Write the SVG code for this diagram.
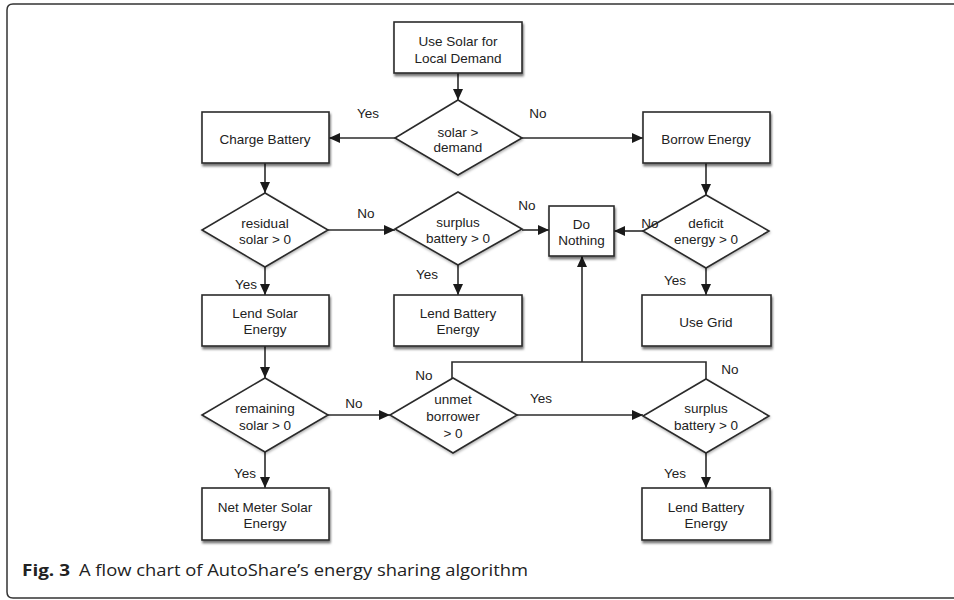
<svg xmlns="http://www.w3.org/2000/svg" width="954" height="600" viewBox="0 0 954 600">
<defs>
<style>
.box{fill:#fff;stroke:#2b2b2b;stroke-width:1.6;filter:url(#sh)}
.dia{fill:#fff;stroke:#2b2b2b;stroke-width:1.6;filter:url(#sh2)}
.t{font-family:"Liberation Sans",Arial,Helvetica,sans-serif;font-size:13.5px;fill:#222;text-anchor:middle}
.lb{font-family:"Liberation Sans",Arial,Helvetica,sans-serif;font-size:13.5px;fill:#222;text-anchor:middle}
.c{fill:none;stroke:#2b2b2b;stroke-width:1.6}
.cap{font-family:"Open Sans","Liberation Sans",sans-serif;font-size:16px;fill:#222}
</style>
<filter id="sh" x="-10%" y="-10%" width="130%" height="140%">
<feDropShadow dx="1" dy="2.5" stdDeviation="1.3" flood-color="#000" flood-opacity="0.55"/>
</filter>
<filter id="sh2" x="-10%" y="-10%" width="130%" height="140%">
<feDropShadow dx="0.5" dy="1.5" stdDeviation="1" flood-color="#000" flood-opacity="0.3"/>
</filter>
<marker id="ah" markerUnits="userSpaceOnUse" markerWidth="12" markerHeight="10" refX="11" refY="5" orient="auto">
<path d="M0,0 L11,5 L0,10 Z" fill="#1a1a1a"/>
</marker>
</defs>
<rect x="0" y="0" width="954" height="600" fill="#fff"/>
<path d="M960,4 H13 Q7,4 7,10 V592 Q7,598 13,598 H960" fill="none" stroke="#333" stroke-width="1.5"/>

<g id="connectors">
<path class="c" d="M458,73 V100" marker-end="url(#ah)"/>
<path class="c" d="M395,138 H329" marker-end="url(#ah)"/>
<path class="c" d="M522,138 H643" marker-end="url(#ah)"/>
<path class="c" d="M265,163 V193" marker-end="url(#ah)"/>
<path class="c" d="M706,163 V195" marker-end="url(#ah)"/>
<path class="c" d="M328,230 H395" marker-end="url(#ah)"/>
<path class="c" d="M522,230 H549" marker-end="url(#ah)"/>
<path class="c" d="M643,231 H614" marker-end="url(#ah)"/>
<path class="c" d="M265,267 V295" marker-end="url(#ah)"/>
<path class="c" d="M458,265 V295" marker-end="url(#ah)"/>
<path class="c" d="M706,268 V295" marker-end="url(#ah)"/>
<path class="c" d="M265,346 V378" marker-end="url(#ah)"/>
<path class="c" d="M328,415 H390" marker-end="url(#ah)"/>
<path class="c" d="M517,415 H643" marker-end="url(#ah)"/>
<path class="c" d="M265,452 V488" marker-end="url(#ah)"/>
<path class="c" d="M706,453 V488" marker-end="url(#ah)"/>
<path class="c" d="M452,378 V362 H706 V379"/>
<path class="c" d="M582,362 V256" marker-end="url(#ah)"/>
</g>

<g id="n-usesolar"><rect class="box" x="394" y="22" width="128" height="51"/>
<text class="t" x="458" y="46">Use Solar for</text><text class="t" x="458" y="63">Local Demand</text></g>
<g id="n-solardemand"><polygon class="dia" points="458,100 522,138 458,175 395,138"/>
<text class="t" x="458" y="137">solar &gt;</text><text class="t" x="458" y="152">demand</text></g>
<g id="n-charge"><rect class="box" x="202" y="112" width="127" height="51"/>
<text class="t" x="265" y="144">Charge Battery</text></g>
<g id="n-borrow"><rect class="box" x="643" y="112" width="127" height="51"/>
<text class="t" x="706" y="144">Borrow Energy</text></g>
<g id="n-residual"><polygon class="dia" points="265,193 328,230 265,267 202,230"/>
<text class="t" x="265" y="228">residual</text><text class="t" x="265" y="244">solar &gt; 0</text></g>
<g id="n-surplus1"><polygon class="dia" points="458,192 522,229 458,265 395,229"/>
<text class="t" x="458" y="227">surplus</text><text class="t" x="458" y="243">battery &gt; 0</text></g>
<g id="n-donothing"><rect class="box" x="549" y="206" width="65" height="50"/>
<text class="t" x="581.5" y="229">Do</text><text class="t" x="581.5" y="245">Nothing</text></g>
<g id="n-deficit"><polygon class="dia" points="706,195 769,231 706,268 643,231"/>
<text class="t" x="706" y="228">deficit</text><text class="t" x="706" y="244">energy &gt; 0</text></g>
<g id="n-lendsolar"><rect class="box" x="202" y="295" width="127" height="51"/>
<text class="t" x="265" y="318">Lend Solar</text><text class="t" x="265" y="334">Energy</text></g>
<g id="n-lendbattery1"><rect class="box" x="394" y="295" width="128" height="51"/>
<text class="t" x="458" y="318">Lend Battery</text><text class="t" x="458" y="334">Energy</text></g>
<g id="n-usegrid"><rect class="box" x="642" y="295" width="129" height="51"/>
<text class="t" x="706" y="327">Use Grid</text></g>
<g id="n-remaining"><polygon class="dia" points="265,378 328,415 265,452 202,415"/>
<text class="t" x="265" y="413">remaining</text><text class="t" x="265" y="430">solar &gt; 0</text></g>
<g id="n-unmet"><polygon class="dia" points="453,378 517,415 453,453 390,415"/>
<text class="t" x="453" y="404">unmet</text><text class="t" x="453" y="421">borrower</text><text class="t" x="453" y="438">&gt; 0</text></g>
<g id="n-surplus2"><polygon class="dia" points="706,379 769,416 706,453 643,416"/>
<text class="t" x="706" y="413">surplus</text><text class="t" x="706" y="430">battery &gt; 0</text></g>
<g id="n-netmeter"><rect class="box" x="202" y="488" width="127" height="52"/>
<text class="t" x="265" y="512">Net Meter Solar</text><text class="t" x="265" y="528">Energy</text></g>
<g id="n-lendbattery2"><rect class="box" x="642" y="488" width="128" height="52"/>
<text class="t" x="706" y="512">Lend Battery</text><text class="t" x="706" y="528">Energy</text></g>

<g id="labels">
<text class="lb" x="368" y="118">Yes</text>
<text class="lb" x="538" y="118">No</text>
<text class="lb" x="366" y="218">No</text>
<text class="lb" x="527" y="210">No</text>
<text class="lb" x="650" y="228">No</text>
<text class="lb" x="246" y="289">Yes</text>
<text class="lb" x="427" y="279">Yes</text>
<text class="lb" x="675" y="285">Yes</text>
<text class="lb" x="424" y="380">No</text>
<text class="lb" x="730" y="374">No</text>
<text class="lb" x="354" y="408">No</text>
<text class="lb" x="541" y="403">Yes</text>
<text class="lb" x="245" y="478">Yes</text>
<text class="lb" x="675" y="478">Yes</text>
</g>

<g id="caption">
<text class="cap" x="22" y="576" font-weight="bold" textLength="48" lengthAdjust="spacingAndGlyphs">Fig. 3</text>
<text class="cap" x="79" y="576" textLength="449" lengthAdjust="spacingAndGlyphs">A flow chart of AutoShare’s energy sharing algorithm</text>
</g>
</svg>
